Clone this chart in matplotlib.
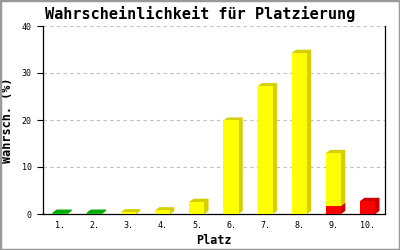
import numpy as np
import matplotlib
matplotlib.use('Agg')
import matplotlib.pyplot as plt
from matplotlib.patches import Polygon, Rectangle

# data
places = ['1.', '2.', '3.', '4.', '5.', '6.', '7.', '8.', '9.', '10.']
green = [0.3, 0.3, 0, 0, 0, 0, 0, 0, 0, 0]
red = [0, 0, 0, 0, 0, 0, 0, 0, 1.7, 2.8]
yellow = [0, 0, 0.4, 0.8, 2.6, 19.9, 27.2, 34.3, 11.3, 0]
yticks = [0, 10, 20, 30, 40]

face = {'green': '#00cc00', 'yellow': '#ffff00', 'red': '#ff0000'}
side = {'green': '#00a800', 'yellow': '#d4d000', 'red': '#cc0000'}

plt.rcParams['font.family'] = ['DejaVu Sans Mono']

fig = plt.figure(figsize=(4, 2.5), dpi=100)
ax = fig.add_axes([43 / 400, 1 - 214 / 250, 342 / 400, 188 / 250])

x = np.arange(len(places))
w = 0.44
dx, dy = 0.12, 0.65  # depth offset (x units, y units)


def bar3d(xc, bottom, h, col):
    if h <= 0:
        return
    x0, x1 = xc - w / 2, xc + w / 2
    y0, y1 = bottom, bottom + h
    pts = [(x0, y1), (x0 + dx, y1 + dy), (x1 + dx, y1 + dy),
           (x1 + dx, y0 + dy), (x1, y0), (x0, y0)]
    ax.add_patch(Polygon(pts, closed=True, facecolor=side[col], edgecolor='none', zorder=3))
    ax.add_patch(Rectangle((x0, y0), w, h, facecolor=face[col], edgecolor='none', zorder=4))


for i in x:
    b = 0
    for vals, col in [(green, 'green'), (red, 'red'), (yellow, 'yellow')]:
        bar3d(i, b, vals[i], col)
        b += vals[i]

ax.set_xlim(-0.5, 9.5)
ax.set_ylim(0, 40)
ax.set_xticks(x)
ax.set_xticklabels(places, fontsize=6)
ax.set_yticks(yticks)
ax.set_yticklabels([str(t) for t in yticks], fontsize=6)
ax.tick_params(axis='x', length=0, pad=5)
ax.tick_params(axis='y', length=4, width=0.8, pad=4)
ax.yaxis.grid(True, color='#c0c0c0', linestyle=(0, (3, 3)), linewidth=0.8)
ax.set_axisbelow(True)
ax.spines['top'].set_visible(False)
for s in ['left', 'right', 'bottom']:
    ax.spines[s].set_linewidth(0.9)

ax.set_ylabel('Wahrsch. (%)', fontsize=8.5, fontweight='bold', labelpad=6)
ax.set_xlabel('Platz', fontsize=8.5, fontweight='bold', labelpad=3)
fig.text(0.5, 1 - 14 / 250, 'Wahrscheinlichkeit für Platzierung',
         ha='center', va='center', fontsize=11, fontweight='bold')

fig.patches.append(Rectangle((0, 0), 1, 1, transform=fig.transFigure, fill=False,
                             edgecolor='#999999', linewidth=2.5, zorder=10))

fig.savefig('out.png', dpi=100)
